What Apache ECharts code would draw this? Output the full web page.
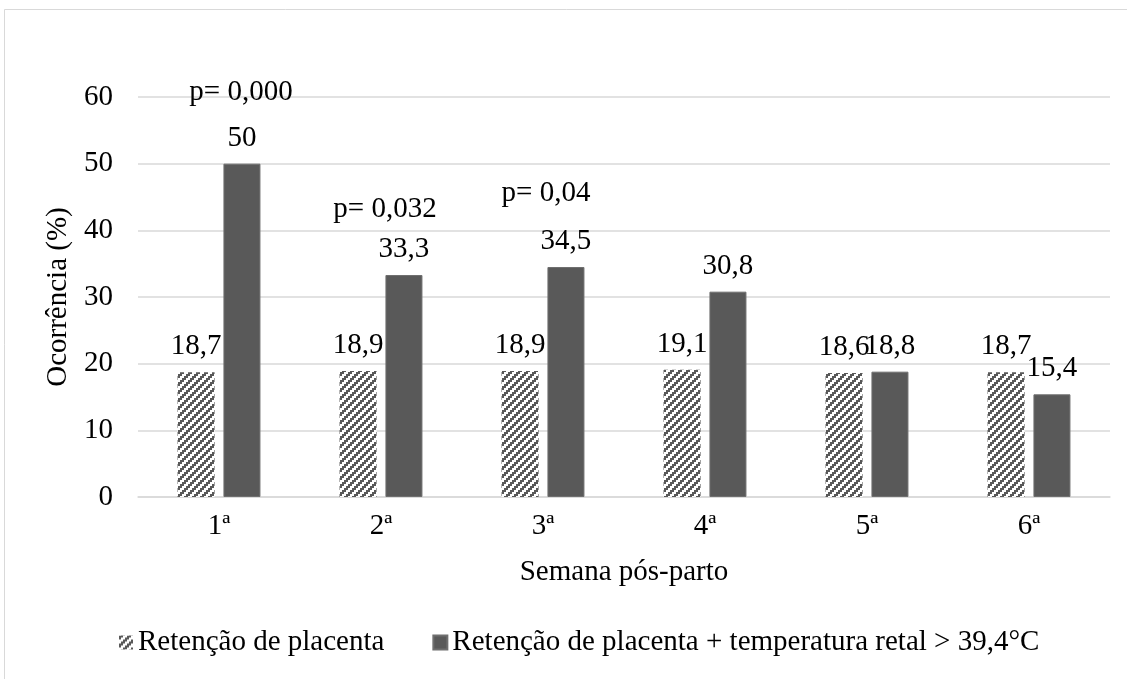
<!DOCTYPE html>
<html>
<head>
<meta charset="utf-8">
<script src="https://cdn.jsdelivr.net/npm/echarts@6/dist/echarts.min.js"></script>
<style>
html,body{margin:0;padding:0;background:#fff;}
#chart{width:1127px;height:679px;}
</style>
</head>
<body>
<div id="chart"></div>
<script>
var categories = ['1ª', '2ª', '3ª', '4ª', '5ª', '6ª'];
var seriesNames = ['Retenção de placenta', 'Retenção de placenta + temperatura retal > 39,4°C'];
var placenta = [18.7, 18.9, 18.9, 19.1, 18.6, 18.7];
var placentaTemp = [50, 33.3, 34.5, 30.8, 18.8, 15.4];
var pCategories = [0, 1, 2];
var pValues = [60.75, 43.2, 45.6];
var pLabels = ['p= 0,000', 'p= 0,032', 'p= 0,04'];
var yTicks = [0, 10, 20, 30, 40, 50, 60];

var FONT = '"Liberation Serif", "Times New Roman", serif';
var FS = 29;
var DARK = '#595959';

function makePattern() {
  var c = document.createElement('canvas');
  c.width = 8; c.height = 8;
  var ctx = c.getContext('2d');
  ctx.fillStyle = '#ffffff';
  ctx.fillRect(0, 0, 8, 8);
  ctx.fillStyle = DARK;
  for (var x = 0; x < 4; x++) {
    for (var y = 0; y < 4; y++) {
      if (((x + y) % 4) < 2) ctx.fillRect(x * 2, y * 2, 2, 2);
    }
  }
  return c;
}
var pattern = { image: makePattern(), repeat: 'repeat' };

function fmt(v) { return String(v).replace('.', ','); }

var pOffsets = [[22, 0], [4, 0], [3, 0]];

var chart = echarts.init(document.getElementById('chart'));
chart.setOption({
  animation: false,
  backgroundColor: '#fff',
  textStyle: { fontFamily: FONT, color: '#000' },
  graphic: [{
    type: 'rect',
    shape: { x: 4.5, y: 9.5, width: 1200, height: 800 },
    style: { fill: 'none', stroke: '#d9d9d9', lineWidth: 1 },
    silent: true
  }],
  grid: { left: 138, right: 17, top: 97, bottom: 182 },
  legend: {
    left: 114,
    top: 623,
    itemWidth: 14,
    itemHeight: 14,
    itemGap: 48,
    textStyle: { fontFamily: FONT, fontSize: FS, color: '#000' },
    data: [
      { name: seriesNames[0], icon: 'rect' },
      { name: seriesNames[1], icon: 'rect' }
    ]
  },
  xAxis: {
    type: 'category',
    data: categories,
    name: 'Semana pós-parto',
    nameLocation: 'middle',
    nameGap: 61,
    nameTextStyle: { fontFamily: FONT, fontSize: FS, color: '#000' },
    axisLine: { show: true, lineStyle: { color: '#d9d9d9', width: 1.5 } },
    axisTick: { show: false },
    axisLabel: { margin: 15, fontFamily: FONT, fontSize: FS, color: '#000' }
  },
  yAxis: {
    type: 'value',
    min: yTicks[0],
    max: yTicks[yTicks.length - 1],
    interval: 10,
    name: 'Ocorrência (%)',
    nameLocation: 'middle',
    nameGap: 50,
    nameTextStyle: { fontFamily: FONT, fontSize: FS, color: '#000' },
    axisLine: { show: false },
    axisTick: { show: false },
    axisLabel: { margin: 25, fontFamily: FONT, fontSize: FS, color: '#000' },
    splitLine: { lineStyle: { color: '#d9d9d9', width: 1.5 } }
  },
  series: [
    {
      name: seriesNames[0],
      type: 'bar',
      data: placenta,
      barWidth: 37,
      barGap: '24%',
      itemStyle: { color: pattern },
      label: {
        show: true, position: 'top', distance: 11,
        fontFamily: FONT, fontSize: FS, color: '#000',
        formatter: function (p) { return fmt(p.value); }
      }
    },
    {
      name: seriesNames[1],
      type: 'bar',
      data: placentaTemp,
      barWidth: 37,
      itemStyle: { color: DARK, borderColor: '#6f6f6f', borderWidth: 1 },
      label: {
        show: true, position: 'top', distance: 11,
        fontFamily: FONT, fontSize: FS, color: '#000',
        formatter: function (p) { return fmt(p.value); }
      }
    },
    {
      name: 'p',
      type: 'scatter',
      clip: false,
      silent: true,
      symbolSize: 0,
      itemStyle: { color: 'rgba(0,0,0,0)', opacity: 1 },
      data: pCategories.map(function (c, i) {
        return {
          value: [c, pValues[i]],
          label: { offset: pOffsets[i] }
        };
      }),
      label: {
        show: true, position: 'inside',
        fontFamily: FONT, fontSize: FS, color: '#000',
        textBorderWidth: 0,
        formatter: function (p) { return pLabels[p.dataIndex]; }
      }
    }
  ]
});
</script>
</body>
</html>
